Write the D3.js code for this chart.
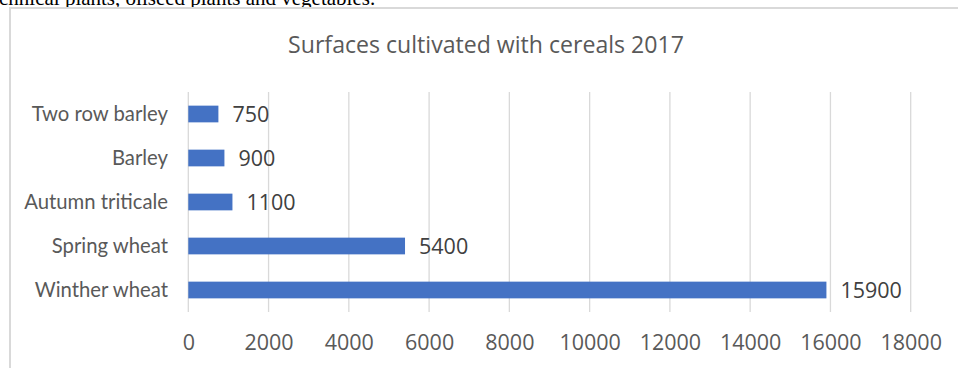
<!DOCTYPE html>
<html>
<head>
<meta charset="utf-8">
<script src="https://cdn.jsdelivr.net/npm/d3@7/dist/d3.min.js"></script>
<style>
  html, body { margin: 0; padding: 0; background: #fff; }
  svg { display: block; }
</style>
</head>
<body>
<svg id="chart" width="958" height="368"></svg>
<script>
// Cereal surfaces, 2017 (top to bottom as drawn)
const categories = ["Two row barley", "Barley", "Autumn triticale", "Spring wheat", "Winther wheat"];
const surfaces = [750, 900, 1100, 5400, 15900];
const tickValues = [0, 2000, 4000, 6000, 8000, 10000, 12000, 14000, 16000, 18000];
const chartTitle = "Surfaces cultivated with cereals 2017";
const precedingText = "chnical plants, oilseed plants and vegetables.";

const svg = d3.select("#chart");
const labelFont = "Lato, Carlito, Calibri, sans-serif";
const numberFont = "'Open Sans', Carlito, Calibri, sans-serif";

// Tail of the preceding paragraph
svg.append("text")
  .attr("x", -1).attr("y", 5)
  .attr("font-family", "'Liberation Serif', 'Times New Roman', serif")
  .attr("font-size", 21)
  .attr("fill", "#000")
  .text(precedingText);

// Chart frame
svg.append("rect")
  .attr("x", 10).attr("y", 8)
  .attr("width", 1000).attr("height", 400)
  .attr("fill", "#fff")
  .attr("stroke", "#d9d9d9")
  .attr("stroke-width", 2);

// Title
svg.append("text")
  .attr("x", 486).attr("y", 53)
  .attr("text-anchor", "middle")
  .attr("font-family", numberFont)
  .attr("font-size", 23.1)
  .attr("fill", "#595959")
  .text(chartTitle);

const x = d3.scaleLinear().domain([0, 18000]).range([188.3, 910.7]);
const y = d3.scaleBand().domain(categories).range([92, 312])
  .paddingInner(0.62).paddingOuter(0.31);

// Vertical gridlines
svg.append("g")
  .selectAll("line")
  .data(tickValues)
  .join("line")
  .attr("x1", d => x(d)).attr("x2", d => x(d))
  .attr("y1", 92).attr("y2", 312)
  .attr("stroke", "#d9d9d9")
  .attr("stroke-width", 1.3);

// Value axis labels
const xAxis = svg.append("g")
  .attr("transform", "translate(0,312)")
  .call(d3.axisBottom(x).tickValues(tickValues).tickFormat(d3.format("d")).tickSize(0).tickPadding(0));
xAxis.select(".domain").remove();
xAxis.selectAll("text")
  .attr("y", 38)
  .attr("dy", 0)
  .attr("font-family", numberFont)
  .attr("font-size", 21.5)
  .attr("fill", "#595959");

// Category labels
const yAxis = svg.append("g")
  .attr("transform", "translate(168,0)")
  .call(d3.axisLeft(y).tickSize(0).tickPadding(0));
yAxis.select(".domain").remove();
yAxis.selectAll("text")
  .attr("x", 0)
  .attr("dy", "0.35em")
  .attr("font-family", labelFont)
  .attr("font-size", 20.3)
  .attr("fill", "#595959");

// Bars
svg.append("g")
  .selectAll("rect")
  .data(categories)
  .join("rect")
  .attr("x", x(0))
  .attr("y", d => y(d))
  .attr("width", (d, i) => x(surfaces[i]) - x(0))
  .attr("height", y.bandwidth())
  .attr("fill", "#4472c4");

// Data labels
svg.append("g")
  .selectAll("text")
  .data(categories)
  .join("text")
  .attr("x", (d, i) => x(surfaces[i]) + 14)
  .attr("y", d => y(d) + y.bandwidth() / 2)
  .attr("dy", "0.35em")
  .attr("font-family", numberFont)
  .attr("font-size", 21.5)
  .attr("fill", "#404040")
  .text((d, i) => surfaces[i]);
</script>
</body>
</html>
